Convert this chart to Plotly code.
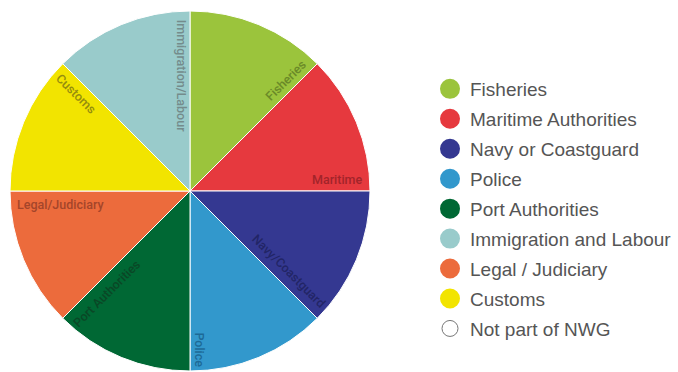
import math
import plotly.graph_objects as go

# ---- data ----
slice_labels = ["Fisheries", "Maritime", "Navy/Coastguard", "Police",
                "Port Authorities", "Legal/Judiciary", "Customs", "Immigration/Labour"]
slice_values = [1, 1, 1, 1, 1, 1, 1, 1]
slice_colors = ["#9bc43c", "#e6393e", "#343891", "#3298cc",
                "#006834", "#ec6b3c", "#f2e400", "#99cbcb"]
label_colors = ["#6a8a28", "#a2242a", "#222566", "#1d6a97",
                "#0a4726", "#a4452a", "#958d0e", "#748c8c"]

legend_names = ["Fisheries", "Maritime Authorities", "Navy or Coastguard", "Police",
                "Port Authorities", "Immigration and Labour", "Legal / Judiciary",
                "Customs", "Not part of NWG"]
legend_colors = ["#9bc43c", "#e6393e", "#343891", "#3298cc", "#006834",
                 "#99cbcb", "#ec6b3c", "#f2e400", "#ffffff"]

# ---- label placement (style) ----
label_radius = [0.81, 0.82, 0.70, 0.88, 0.73, 0.72, 0.83, 0.64]
label_offset = [11, 12, 13, 10, 13, 13, 12, 9]

W, H = 678, 372
CX, CY, R = 190, 191, 180

fig = go.Figure()
fig.add_trace(go.Pie(
    labels=slice_labels, values=slice_values, sort=False, direction="clockwise",
    rotation=0, marker=dict(colors=slice_colors, line=dict(color="white", width=1)),
    textinfo="none", hoverinfo="label", showlegend=False,
    domain=dict(x=[(CX - R) / W, (CX + R) / W], y=[1 - (CY + R) / H, 1 - (CY - R) / H]),
))

total = sum(slice_values)
cum = 0
annotations = []
for i, (lab, v) in enumerate(zip(slice_labels, slice_values)):
    cum += v
    theta_deg = 360 * cum / total
    th = math.radians(theta_deg)
    r = label_radius[i] * R
    d = label_offset[i]
    px = CX + r * math.sin(th) - d * math.cos(th)
    py = CY - r * math.cos(th) - d * math.sin(th)
    ang = theta_deg - 90 if theta_deg <= 180 else theta_deg - 270
    annotations.append(dict(
        x=px / W, y=1 - py / H, xref="paper", yref="paper", text=lab,
        showarrow=False, textangle=ang, xanchor="center", yanchor="middle",
        font=dict(family="Roboto", size=12.5, weight=500, color=label_colors[i]),
    ))

for name, col in zip(legend_names, legend_colors):
    line_col = "#777777" if col == "#ffffff" else col
    line_w = 1 if col == "#ffffff" else 4
    fig.add_trace(go.Scatter(
        x=[None], y=[None], mode="markers", name=name, legendgroup=name,
        marker=dict(size=16, color=col, line=dict(color=line_col, width=line_w)),
    ))

fig.update_layout(
    width=W, height=H, margin=dict(l=0, r=0, t=0, b=0),
    paper_bgcolor="white", plot_bgcolor="white",
    xaxis=dict(visible=False), yaxis=dict(visible=False),
    annotations=annotations,
    legend=dict(x=430 / W, y=1 - 70 / H, xanchor="left", yanchor="top",
                traceorder="grouped", tracegroupgap=2.25,
                font=dict(family="Liberation Sans", size=19, color="#555555"),
                bgcolor="rgba(0,0,0,0)"),
)

fig.write_html("out.html")
